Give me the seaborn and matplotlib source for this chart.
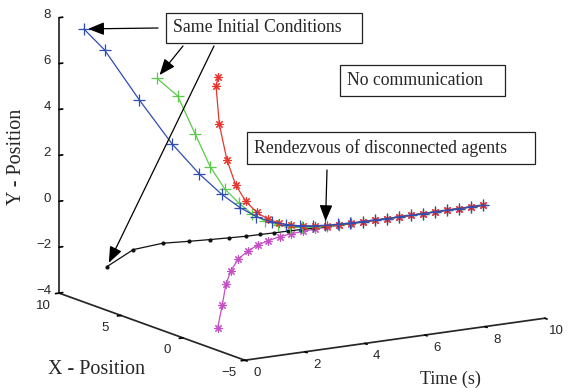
import matplotlib
matplotlib.use("Agg")
import matplotlib.pyplot as plt
import numpy as np
import seaborn as sns
from matplotlib.patches import Rectangle, FancyArrowPatch
from matplotlib.transforms import IdentityTransform

# time samples (s)
time_s = [0.0, 0.4, 0.8, 1.2, 1.6, 2.0, 2.4, 2.8, 3.2, 3.6, 4.0, 4.4, 4.8,
          5.2, 5.6, 6.0, 6.4, 6.8, 7.2, 7.6, 8.0, 8.4, 8.8, 9.2, 9.6, 10.0]

# agent trajectories: x - position, y - position
blue_x = [8.0, 7.3, 5.45, 3.8, 2.55, 1.7, 1.2, 0.85, 0.58, 0.4, 0.27, 0.18, 0.12,
          0.08, 0.05, 0.03, 0.02, 0.01, 0.01, 0.0, 0.0, 0.0, 0.0, 0.0, 0.0, 0.0]
blue_y = [7.9, 7.05, 5.15, 3.5, 2.35, 1.55, 1.0, 0.6, 0.35, 0.2, 0.1, 0.04, 0.0,
          -0.02, -0.03, -0.04, -0.04, -0.05, -0.05, -0.05, -0.05, -0.05, -0.05,
          -0.05, -0.05, -0.05]

green_x = [2.1, 1.4, 0.95, 0.7, 0.5, 0.35, 0.25, 0.17, 0.11, 0.07, 0.04, 0.02, 0.01,
           0.0, 0.0, 0.0, 0.0, 0.0, 0.0, 0.0, 0.0, 0.0, 0.0, 0.0, 0.0, 0.0]
green_y = [6.9, 6.2, 4.55, 3.1, 2.1, 1.45, 0.92, 0.55, 0.32, 0.17, 0.08, 0.03, 0.0,
           -0.02, -0.03, -0.04, -0.05, -0.05, -0.05, -0.05, -0.05, -0.05, -0.05,
           -0.05, -0.05, -0.05]

red_x = [-2.85, -1.7, -1.0, -0.65, -0.38, -0.22, -0.14, -0.07, -0.03, -0.02, -0.01,
         0.0, 0.0, 0.0, 0.0, 0.0, 0.0, 0.0, 0.0, 0.0, 0.0, 0.0, 0.0, 0.0, 0.0, 0.0]
red_y = [7.9, 7.25, 5.35, 3.65, 2.45, 1.63, 1.06, 0.68, 0.42, 0.25, 0.13, 0.06, 0.01,
         -0.02, -0.03, -0.04, -0.05, -0.05, -0.05, -0.05, -0.05, -0.05, -0.05,
         -0.05, -0.05, -0.05]

magenta_x = [-2.8, -2.2, -1.53, -0.97, -0.6, -0.38, -0.25, -0.12, -0.05, -0.02, -0.01,
             0.0, 0.0, 0.0, 0.0, 0.0, 0.0, 0.0, 0.0, 0.0, 0.0, 0.0, 0.0, 0.0, 0.0, 0.0]
magenta_y = [-3.03, -2.23, -1.52, -1.1, -0.73, -0.52, -0.34, -0.25, -0.17, -0.12,
             -0.09, -0.07, -0.06, -0.05, -0.05, -0.05, -0.05, -0.05, -0.05, -0.05,
             -0.05, -0.05, -0.05, -0.05, -0.05, -0.05]

black_x = [6.13, 4.98, 3.57, 2.44, 1.69, 1.13, 0.75, 0.52, 0.36, 0.26, 0.18, 0.12,
           0.08, 0.05, 0.03, 0.02, 0.01, 0.0, 0.0, 0.0, 0.0, 0.0, 0.0, 0.0, 0.0, 0.0]
black_y = [-2.09, -1.2, -0.72, -0.49, -0.34, -0.23, -0.16, -0.11, -0.08, -0.06,
           -0.05, -0.05, -0.05, -0.05, -0.05, -0.05, -0.05, -0.05, -0.05, -0.05,
           -0.05, -0.05, -0.05, -0.05, -0.05, -0.05]

time_ticks = [0, 2, 4, 6, 8, 10]
xpos_ticks = [-5, 0, 5, 10]
ypos_ticks = [-4, -2, 0, 2, 4, 6, 8]

sns.set_theme(style="white")
plt.rcParams["font.family"] = ["Liberation Sans", "DejaVu Sans"]

W, H = 573, 388
fig = plt.figure(figsize=(W / 100, H / 100), dpi=100)
ax = fig.add_subplot(projection="3d", proj_type="ortho")
ax.set_position([0, 0, 1, 1])
ax.computed_zorder = False

ax.plot(time_s, magenta_x, magenta_y, color="#c64fc4", lw=0.9,
        marker=(8, 2, 0), ms=6, mew=0.8)
ax.plot(time_s, black_x, black_y, color="#111111", lw=0.9, marker=".", ms=4)
ax.plot(time_s, green_x, green_y, color="#5acb48", lw=0.9, marker="+", ms=8, mew=0.9)
ax.plot(time_s, red_x, red_y, color="#e8352e", lw=0.9,
        marker=(8, 2, 0), ms=6, mew=0.8)
ax.plot(time_s, blue_x, blue_y, color="#2f4db3", lw=0.9, marker="+", ms=8, mew=0.9)

ax.set_xlim(0, 10)
ax.set_ylim(-5, 10)
ax.set_zlim(-4, 8)
ax.set_xticks(time_ticks)
ax.set_yticks(xpos_ticks)
ax.set_zticks(ypos_ticks)
ax.xaxis.set_ticklabels([])
ax.yaxis.set_ticklabels([])
ax.zaxis.set_ticklabels([])
ax.view_init(elev=13, azim=-121.9)
ax.set_box_aspect((1, 0.995, 0.80))
ax.grid(False)
for axis in (ax.xaxis, ax.yaxis, ax.zaxis):
    axis.set_pane_color((1, 1, 1, 0))
    axis._axinfo["axisline"]["color"] = "black"
    axis._axinfo["axisline"]["linewidth"] = 0.8
    axis._axinfo["tick"]["inward_factor"] = 0.15
    axis._axinfo["tick"]["outward_factor"] = 0.0
ax.zaxis._axinfo["tick"]["inward_factor"] = 0.0
ax.zaxis._axinfo["tick"]["outward_factor"] = 0.15
ax.tick_params(colors="black", width=0.7)

# fit the axes box so the axis corners sit where they do in the figure
fig.canvas.draw()


def to_disp(p):
    v = ax.M @ np.array([p[0], p[1], p[2], 1.0])
    return ax.transData.transform((v[0] / v[3], v[1] / v[3]))


corners = [(0, 10, -4), (10, -5, -4), (0, 10, 8)]
targets = [(59, H - 293), (545, H - 318), (59, H - 18)]
bb = ax.get_position().transformed(fig.transFigure)
c0 = np.array([(bb.x0 + bb.x1) / 2, (bb.y0 + bb.y1) / 2])
s0 = bb.width
rows, rhs = [], []
for p, tgt in zip(corners, targets):
    g = (to_disp(p) - c0) / s0
    rows += [[1, 0, g[0]], [0, 1, g[1]]]
    rhs += [tgt[0], tgt[1]]
cx, cy, size = np.linalg.lstsq(np.array(rows), np.array(rhs), rcond=None)[0]
ax.set_position([(cx - size / 2) / W, (cy - size / 2) / H, size / W, size / H])
fig.canvas.draw()


def fmt(v):
    return str(v).replace("-", "\u2212")


# tick labels, placed next to the projected tick positions
for v in time_ticks:
    px, py = to_disp((v, -5, -4))
    fig.text((px + 12) / W, (py - 13) / H, fmt(v), fontsize=9.5,
             ha="center", va="center")
for v in xpos_ticks:
    px, py = to_disp((0, v, -4))
    fig.text((px - 16) / W, (py - 12.5) / H, fmt(v), fontsize=9.5,
             ha="center", va="center")
for v in ypos_ticks:
    px, py = to_disp((0, 10, v))
    fig.text((px - 8) / W, (py + 2.5) / H, fmt(v), fontsize=9.5,
             ha="right", va="center")

serif = ["Liberation Serif", "DejaVu Serif"]

# axis labels
fig.text(17 / W, 1 - 157 / H, "Y - Position", rotation=90, family=serif,
         fontsize=14.5, ha="center", va="center")
fig.text(97 / W, 1 - 369 / H, "X - Position", family=serif, fontsize=14.5,
         ha="center", va="center")
fig.text(450 / W, 1 - 379 / H, "Time (s)", family=serif, fontsize=13,
         ha="center", va="center")

# text boxes
boxes = [
    (166, 13, 196, 30, "Same Initial Conditions"),
    (340, 65, 165, 31, "No communication"),
    (247, 132, 288, 32, "Rendezvous of disconnected agents"),
]
for x0, y0, w, h, label in boxes:
    fig.add_artist(Rectangle((x0 / W, 1 - (y0 + h) / H), w / W, h / H,
                             transform=fig.transFigure, fill=False,
                             lw=0.9, ec="#222222"))
    fig.text((x0 + 7) / W, 1 - (y0 + h / 2) / H, label, family=serif,
             fontsize=12.8, ha="left", va="center")

arrows = [
    ((158, 28), (time_s[0], blue_x[0], blue_y[0])),
    ((183, 46), (time_s[0], green_x[0], green_y[0])),
    ((214, 46), (time_s[0], black_x[0], black_y[0])),
    ((327, 170), (time_s[12], blue_x[12], blue_y[12])),
]
for start, pt in arrows:
    tip = to_disp(pt)
    fig.add_artist(FancyArrowPatch((start[0], H - start[1]), tuple(tip),
                                   transform=IdentityTransform(),
                                   arrowstyle="-|>,head_length=0.7,head_width=0.28",
                                   mutation_scale=14, lw=0.9, color="black",
                                   shrinkA=0, shrinkB=3))

fig.savefig("out.png", dpi=100)
